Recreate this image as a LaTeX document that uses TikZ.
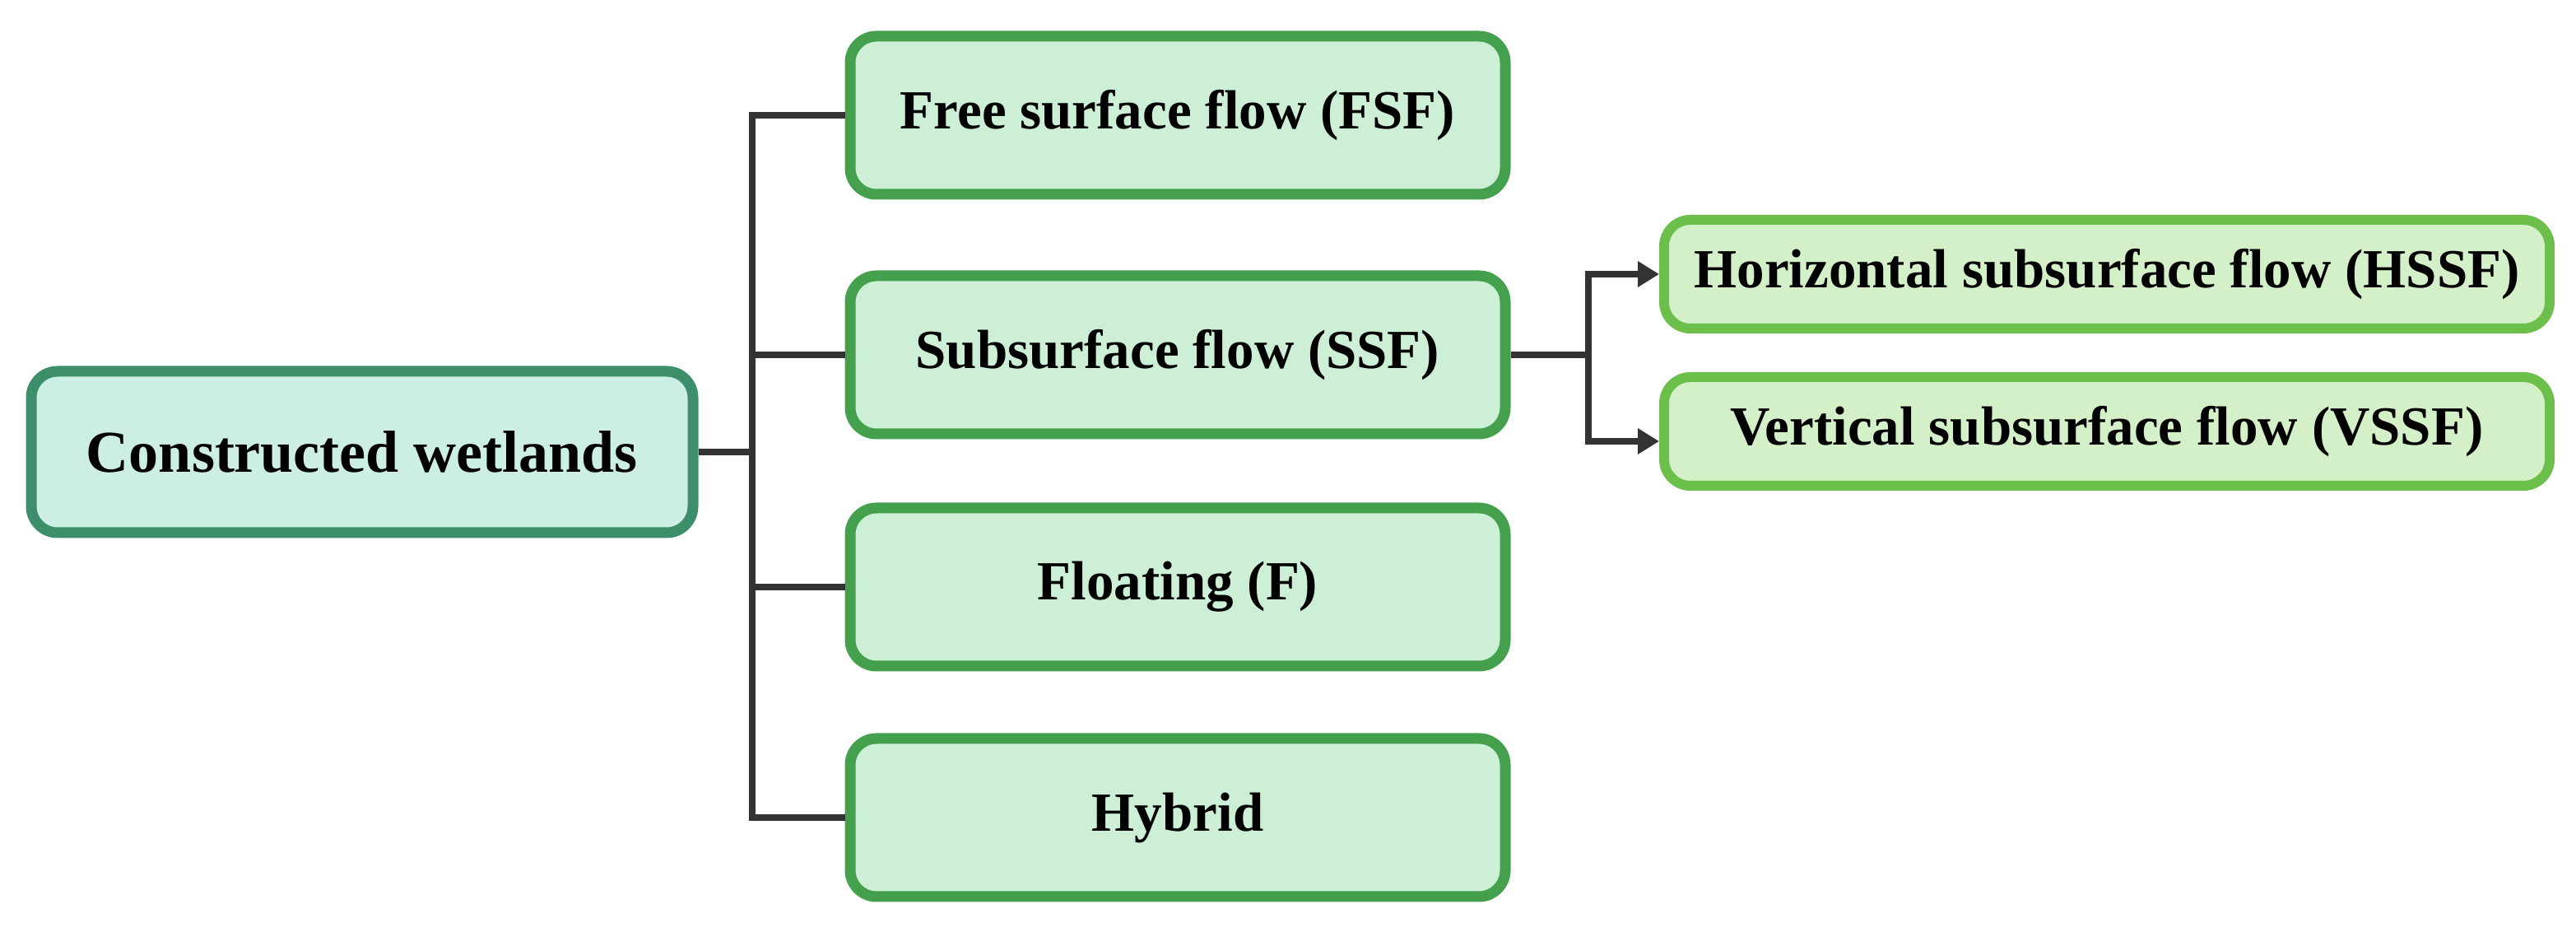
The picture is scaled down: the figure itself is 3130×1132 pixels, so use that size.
\documentclass[tikz,border=0pt]{standalone}
\usepackage{fontspec}
\setmainfont{Liberation Serif}
\usepackage{tikz}
\usetikzlibrary{arrows.meta}
\definecolor{rootfill}{HTML}{CDEEE4}
\definecolor{rootline}{HTML}{3D8F6B}
\definecolor{catfill}{HTML}{CCEFD6}
\definecolor{catline}{HTML}{45A04D}
\definecolor{subfill}{HTML}{D4F0C9}
\definecolor{subline}{HTML}{6CBF4B}
\definecolor{linkcol}{HTML}{333333}
\tikzset{
  font=\bfseries\fontsize{16.75}{20}\selectfont,
  rootbox/.style={draw=rootline, fill=rootfill, line width=3.25pt, rounded corners=8pt,
    minimum width=201pt, minimum height=49pt, inner sep=0pt,
    font=\bfseries\fontsize{18}{22}\selectfont},
  catbox/.style={draw=catline, fill=catfill, line width=3.25pt, rounded corners=8pt,
    minimum width=199pt, minimum height=48pt, inner sep=0pt},
  subbox/.style={draw=subline, fill=subfill, line width=3pt, rounded corners=8pt,
    minimum width=269pt, minimum height=33pt, inner sep=0pt},
  link/.style={draw=linkcol, line width=2pt},
  tip/.style={link, {Triangle[length=6.5pt,width=7.5pt]}-{Triangle[length=6.5pt,width=7.5pt]}},
}
\begin{document}
\begin{tikzpicture}[x=0.25pt,y=-0.25pt]
\useasboundingbox (0,0) rectangle (3130,1132);
% boxes
\node[rootbox] (cw) at (440,549) {Constructed wetlands};
\node[catbox] (fsf) at (1431,140) {Free surface flow (FSF)};
\node[catbox] (ssf) at (1431,431) {Subsurface flow (SSF)};
\node[catbox] (flt) at (1431,713) {Floating (F)};
\node[catbox] (hyb) at (1431,993) {Hybrid};
\node[subbox] (hssf) at (2560,333) {Horizontal subsurface flow (HSSF)};
\node[subbox] (vssf) at (2560,524) {Vertical subsurface flow (VSSF)};
% trunk + stubs
\coordinate (tr) at (914,0);
\coordinate (fk) at (1930,0);
\draw[link] (fsf.west) -- (fsf.west -| tr) -- (hyb.west -| tr) -- (hyb.west);
\draw[link] (cw.east) -- (cw.east -| tr);
\draw[link] (ssf.west -| tr) -- (ssf.west);
\draw[link] (flt.west -| tr) -- (flt.west);
% SSF fork
\draw[link] (ssf.east) -- (ssf.east -| fk);
\draw[tip] (hssf.west) -| (fk |- ssf.east) |- ([yshift=-3pt]vssf.west);
\end{tikzpicture}
\end{document}
